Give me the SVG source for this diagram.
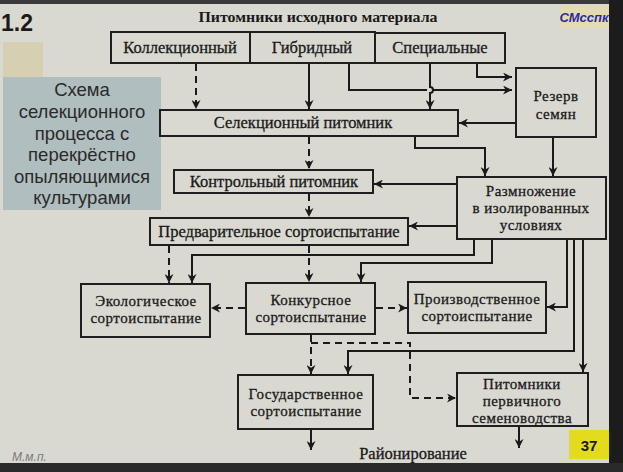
<svg xmlns="http://www.w3.org/2000/svg" width="623" height="472" viewBox="0 0 623 472">
<defs>
<marker id="ah" viewBox="0 0 10 10" refX="10" refY="5" markerWidth="9" markerHeight="9" markerUnits="userSpaceOnUse" orient="auto">
<path d="M0,0 L10,5 L0,10 L3,5 Z" fill="#1a1a1a"/>
</marker>
</defs>
<style>
.bx{fill:#dad9d1;stroke:#1e1e1e;stroke-width:2}
.t{font-family:"Liberation Serif","Times New Roman",serif;font-size:16.5px;fill:#1a1a1a;stroke:#1a1a1a;stroke-width:0.3;text-anchor:middle}
.m{font-size:15px;letter-spacing:0.5px}
.c{fill:none;stroke:#1a1a1a;stroke-width:2}
.d{fill:none;stroke:#1a1a1a;stroke-width:2;stroke-dasharray:7,5}
.s{font-family:"Liberation Sans",Arial,sans-serif;font-size:18.5px;fill:#2a2a2a;text-anchor:middle}
</style>
<rect x="0" y="0" width="623" height="472" fill="#dad9d1"/>
<rect x="0" y="0" width="623" height="4" fill="#3a3a3a"/>
<rect x="609" y="0" width="14" height="472" fill="#1c1c1c"/>
<rect x="0" y="463" width="623" height="9" fill="#2a2a2a"/>
<rect x="3" y="42" width="40" height="36" fill="#d6cfb2"/>
<rect x="3" y="77" width="158" height="133" fill="#b1bec0"/>
<rect x="560" y="6" width="49" height="22" fill="#e4dcb0"/>
<rect x="569" y="430" width="40" height="29" fill="#e3db1e"/>

<text x="1" y="31" font-family="Liberation Sans,Arial,sans-serif" font-size="23" font-weight="bold" fill="#1a1a1a">1.2</text>
<text x="584" y="22" font-family="Liberation Sans,Arial,sans-serif" font-size="13" font-weight="bold" font-style="italic" fill="#2a2aa0" text-anchor="middle">СМсспк</text>
<text x="318" y="22" font-family="Liberation Serif,serif" font-size="14" font-weight="bold" fill="#1a1a1a" text-anchor="middle" textLength="239" lengthAdjust="spacingAndGlyphs">Питомники исходного материала</text>
<text x="589" y="451" font-family="Liberation Sans,Arial,sans-serif" font-size="15" font-weight="bold" fill="#1a1a1a" text-anchor="middle">37</text>
<text x="12" y="461" font-family="Liberation Sans,Arial,sans-serif" font-size="12" font-style="italic" fill="#7a7a7a">М.м.п.</text>

<g id="scheme">
<text class="s" x="82" y="96">Схема</text>
<text class="s" x="82" y="118">селекционного</text>
<text class="s" x="82" y="140">процесса с</text>
<text class="s" x="82" y="161">перекрёстно</text>
<text class="s" x="82" y="183">опыляющимися</text>
<text class="s" x="82" y="204">культурами</text>
</g>

<g id="connectors">
<path class="d" d="M196,64 V109" marker-end="url(#ah)"/>
<path class="c" d="M309,64 V109" marker-end="url(#ah)"/>
<path class="c" d="M349,64 V90 H427 M433,90 H512" marker-end="url(#ah)"/>
<path class="c" d="M430,64 V87 A3,3 0 0 1 430,93 V109" marker-end="url(#ah)"/>
<path class="c" d="M477,64 V77 H512" marker-end="url(#ah)"/>
<path class="c" d="M516,123 H459" marker-end="url(#ah)"/>
<path class="d" d="M309,137 V169" stroke-dasharray="6,3,2,3" marker-end="url(#ah)"/>
<path class="c" d="M415,137 V148 H485 V176" marker-end="url(#ah)"/>
<path class="c" d="M553,138 V176" marker-end="url(#ah)"/>
<path class="c" d="M457,184 H374" marker-end="url(#ah)"/>
<path class="d" d="M309,194 V217" stroke-dasharray="6,3,2,3" marker-end="url(#ah)"/>
<path class="c" d="M457,226 H409" marker-end="url(#ah)"/>
<path class="d" d="M169,246 V283" marker-end="url(#ah)"/>
<path class="d" d="M309,246 V282" stroke-dasharray="6,3,2,3" marker-end="url(#ah)"/>
<path class="c" d="M474,240 V255 H192 V283" marker-end="url(#ah)"/>
<path class="c" d="M492,240 V263 H361 V282" marker-end="url(#ah)"/>
<path class="d" d="M245,308 H211" marker-end="url(#ah)"/>
<path class="d" d="M376,308 H407" stroke-dasharray="5,5" marker-end="url(#ah)"/>
<path class="c" d="M567,240 V307 H547" marker-end="url(#ah)"/>
<path class="c" d="M574,240 V351 H348 V374" marker-end="url(#ah)"/>
<path class="c" d="M583,240 V372" marker-end="url(#ah)"/>
<path class="d" d="M311,335 V374" marker-end="url(#ah)"/>
<path class="d" d="M311,343 H410 V398 H456" marker-end="url(#ah)"/>
<path class="c" d="M311,430 V450" marker-end="url(#ah)"/>
<path class="c" d="M519,427 V448" marker-end="url(#ah)"/>
</g>

<g id="n-kollek"><rect class="bx" x="111" y="32" width="139" height="31"/><text class="t" x="180" y="53">Коллекционный</text></g>
<g id="n-gibrid"><rect class="bx" x="250" y="32" width="125" height="31"/><text class="t" x="312" y="53">Гибридный</text></g>
<g id="n-spec"><rect class="bx" x="375" y="33" width="130" height="30"/><text class="t" x="440" y="53">Специальные</text></g>
<g id="n-rezerv"><rect class="bx" x="516" y="68" width="80" height="69"/><text class="t m" x="556" y="101">Резерв</text><text class="t m" x="556" y="119">семян</text></g>
<g id="n-selek"><rect class="bx" x="160" y="110" width="298" height="26"/><text class="t" x="303" y="128">Селекционный питомник</text></g>
<g id="n-kontrol"><rect class="bx" x="174" y="170" width="199" height="23"/><text class="t" x="274" y="187">Контрольный питомник</text></g>
<g id="n-razmn"><rect class="bx" x="457" y="177" width="149" height="62"/><text class="t m" x="531" y="196">Размножение</text><text class="t m" x="531" y="213">в изолированных</text><text class="t m" x="531" y="230">условиях</text></g>
<g id="n-predv"><rect class="bx" x="150" y="218" width="258" height="27"/><text class="t" x="279" y="237">Предварительное сортоиспытание</text></g>
<g id="n-ekol"><rect class="bx" x="81" y="284" width="129" height="53"/><text class="t m" x="146" y="306">Экологическое</text><text class="t m" x="146" y="323">сортоиспытание</text></g>
<g id="n-konk"><rect class="bx" x="246" y="283" width="129" height="51"/><text class="t m" x="311" y="305">Конкурсное</text><text class="t m" x="311" y="322">сортоиспытание</text></g>
<g id="n-proizv"><rect class="bx" x="408" y="282" width="138" height="51"/><text class="t m" x="477" y="304">Производственное</text><text class="t m" x="477" y="321">сортоиспытание</text></g>
<g id="n-gos"><rect class="bx" x="238" y="375" width="135" height="54"/><text class="t m" x="306" y="399">Государственное</text><text class="t m" x="306" y="416">сортоиспытание</text></g>
<g id="n-pitom"><rect class="bx" x="457" y="373" width="131" height="53"/><text class="t m" x="522" y="389">Питомники</text><text class="t m" x="522" y="406">первичного</text><text class="t m" x="522" y="423">семеноводства</text></g>
<g id="n-rayon"><text class="t" x="413" y="459">Районирование</text></g>
</svg>
